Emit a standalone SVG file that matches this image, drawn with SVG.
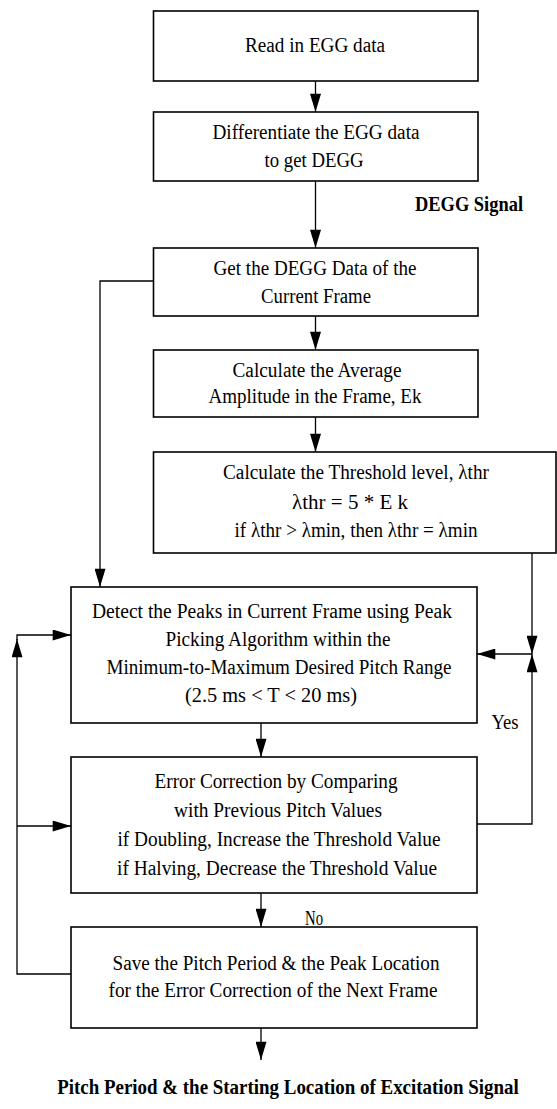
<svg xmlns="http://www.w3.org/2000/svg" width="557" height="1109" viewBox="0 0 557 1109">
<defs>
<marker id="ah" viewBox="0 0 20 12" refX="20" refY="6" markerWidth="20" markerHeight="11" orient="auto" markerUnits="userSpaceOnUse">
<path d="M0,0 L20,6 L0,12 z" fill="#000"/>
</marker>
<style>
rect.box{fill:#fff;stroke:#000;stroke-width:1.6}
.t{font-family:"Liberation Serif","Times New Roman",serif;font-size:20px;fill:#000;text-anchor:middle}
.b{font-family:"Liberation Serif","Times New Roman",serif;font-size:21px;font-weight:bold;fill:#000;text-anchor:middle}
.c{fill:none;stroke:#000;stroke-width:1.3}
</style>
</defs>
<rect width="557" height="1109" fill="#fff"/>
<g id="connectors">
<path class="c" d="M315.5,81 V112" marker-end="url(#ah)"/>
<path class="c" d="M315.5,181 V248" marker-end="url(#ah)"/>
<path class="c" d="M315.5,316 V350" marker-end="url(#ah)"/>
<path class="c" d="M315.5,417 V452" marker-end="url(#ah)"/>
<path class="c" d="M153.5,281 H100 V587" marker-end="url(#ah)"/>
<path class="c" d="M532,553 V654" marker-end="url(#ah)"/>
<path class="c" d="M477,824 H532 V654" marker-end="url(#ah)"/>
<path class="c" d="M532,654 H477" marker-end="url(#ah)"/>
<path class="c" d="M261,723 V757" marker-end="url(#ah)"/>
<path class="c" d="M261,893 V927" marker-end="url(#ah)"/>
<path class="c" d="M261,1028 V1060" marker-end="url(#ah)"/>
<path class="c" d="M71,974 H17 V639" marker-end="url(#ah)"/>
<path class="c" d="M17,640 V635 H71" marker-end="url(#ah)"/>
<path class="c" d="M17,826 H71" marker-end="url(#ah)"/>
<text class="b" x="469" y="211" textLength="108" lengthAdjust="spacingAndGlyphs">DEGG Signal</text>
<text class="t" x="505" y="729" textLength="27" lengthAdjust="spacingAndGlyphs">Yes</text>
<text class="t" x="314" y="925" textLength="18" lengthAdjust="spacingAndGlyphs">No</text>
<text class="b" transform="translate(288,1094) scale(0.82,1)" x="0" y="0" textLength="563" lengthAdjust="spacingAndGlyphs">Pitch Period &amp; the Starting Location of Excitation Signal</text>
</g>
<g id="n1">
<rect class="box" x="153.5" y="11" width="324.5" height="70"/>
<text class="t" x="315" y="52" textLength="140" lengthAdjust="spacingAndGlyphs">Read in EGG data</text>
</g>
<g id="n2">
<rect class="box" x="153.5" y="112" width="324.5" height="69"/>
<text class="t" x="316" y="139" textLength="207" lengthAdjust="spacingAndGlyphs">Differentiate the EGG data</text>
<text class="t" x="314" y="167" textLength="99" lengthAdjust="spacingAndGlyphs">to get DEGG</text>
</g>
<g id="n3">
<rect class="box" x="153.5" y="248" width="324.5" height="68"/>
<text class="t" x="315" y="275" textLength="203" lengthAdjust="spacingAndGlyphs">Get the DEGG Data of the</text>
<text class="t" x="316" y="303" textLength="110" lengthAdjust="spacingAndGlyphs">Current Frame</text>
</g>
<g id="n4">
<rect class="box" x="153.5" y="350" width="324.5" height="67"/>
<text class="t" x="317" y="377" textLength="169" lengthAdjust="spacingAndGlyphs">Calculate the Average</text>
<text class="t" x="315" y="403" textLength="213" lengthAdjust="spacingAndGlyphs">Amplitude in the Frame, Ek</text>
</g>
<g id="n5">
<rect class="box" x="153.5" y="452" width="402.5" height="101"/>
<text class="t" x="356" y="479" textLength="266" lengthAdjust="spacingAndGlyphs">Calculate the Threshold level, λthr</text>
<text class="t" x="350" y="509" textLength="116" lengthAdjust="spacingAndGlyphs">λthr = 5 * E k</text>
<text class="t" x="356" y="537" textLength="243" lengthAdjust="spacingAndGlyphs">if λthr &gt; λmin, then λthr = λmin</text>
</g>
<g id="n6">
<rect class="box" x="71" y="587" width="406" height="136"/>
<text class="t" x="272" y="618" textLength="360" lengthAdjust="spacingAndGlyphs">Detect the Peaks in Current Frame using Peak</text>
<text class="t" x="278" y="646" textLength="225" lengthAdjust="spacingAndGlyphs">Picking Algorithm within the</text>
<text class="t" x="279" y="674" textLength="345" lengthAdjust="spacingAndGlyphs">Minimum-to-Maximum Desired Pitch Range</text>
<text class="t" x="271" y="702" textLength="172" lengthAdjust="spacingAndGlyphs">(2.5 ms &lt; T &lt; 20 ms)</text>
</g>
<g id="n7">
<rect class="box" x="71" y="757" width="406" height="136"/>
<text class="t" x="276" y="788" textLength="243" lengthAdjust="spacingAndGlyphs">Error Correction by Comparing</text>
<text class="t" x="278" y="817" textLength="208" lengthAdjust="spacingAndGlyphs">with Previous Pitch Values</text>
<text class="t" x="279" y="846" textLength="323" lengthAdjust="spacingAndGlyphs">if Doubling, Increase the Threshold Value</text>
<text class="t" x="277" y="875" textLength="320" lengthAdjust="spacingAndGlyphs">if Halving, Decrease the Threshold Value</text>
</g>
<g id="n8">
<rect class="box" x="71" y="927" width="406" height="101"/>
<text class="t" x="276" y="970" textLength="327" lengthAdjust="spacingAndGlyphs">Save the Pitch Period &amp; the Peak Location</text>
<text class="t" x="273" y="997" textLength="329" lengthAdjust="spacingAndGlyphs">for the Error Correction of the Next Frame</text>
</g>
</svg>
